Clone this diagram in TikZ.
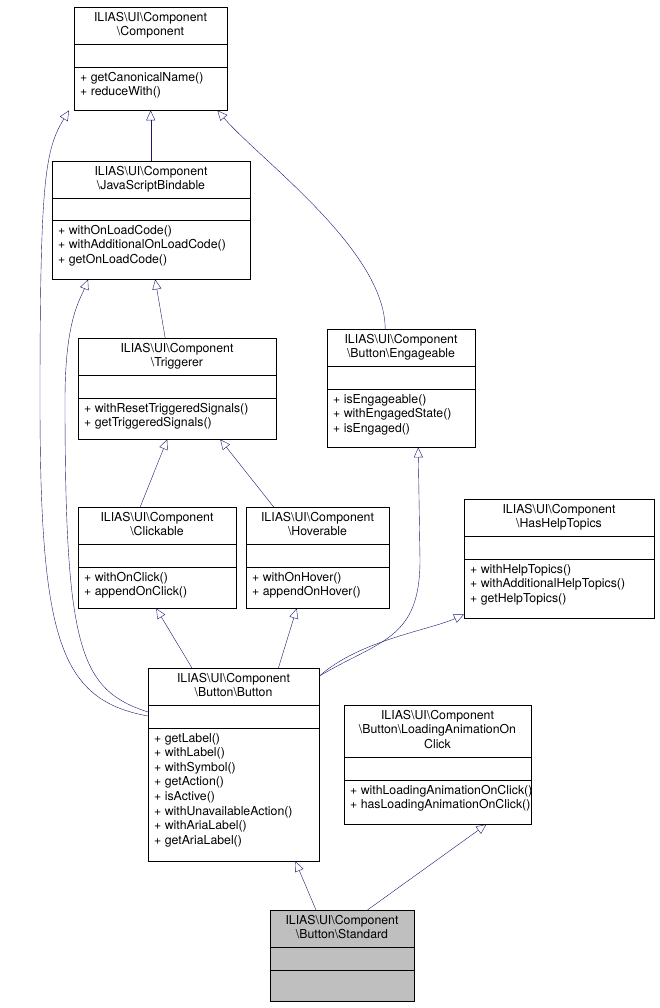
\documentclass[tikz,border=0pt]{standalone}
\usepackage{fontspec}
\setmainfont{TeX Gyre Heros}
\usetikzlibrary{arrows.meta}
\newcommand\bs{\textbackslash}
\definecolor{edgec}{HTML}{191970}
\tikzset{
  box/.style={draw=black, fill=white, inner sep=0pt, anchor=north west},
  txt/.style={inner sep=0pt, font=\fontsize{12.3}{14.6}\selectfont},
  edge/.style={draw=edgec, -{Triangle[open,length=10pt,width=9pt]}}
}
% #1 name #2 x1 #3 y1 #4 x2 #5 y_title_end #6 y_empty_end #7 y2 #8 title #9 methods
\newcommand\umlbox[9]{%
  \node[box, minimum width={#4pt-#2pt}, minimum height={#7pt-#3pt}] (#1) at (#2,#3) {};
  \draw ({#2},{#5}) -- ({#4},{#5});
  \draw ({#2},{#6}) -- ({#4},{#6});
  \node[txt, align=center, anchor=north] (#1t) at ({(#2+#4)/2},{#3+5}) {#8};
  \node[txt, align=left, anchor=north west] (#1m) at ({#2+6},{#6+5}) {#9};
}
\begin{document}
\begin{tikzpicture}[x=1pt,y=-1pt]
\useasboundingbox (0,0) rectangle (660,1008);
\umlbox{comp}{74}{7}{227}{44}{67}{110}{ILIAS\bs UI\bs Component\\\bs Component}{+ getCanonicalName()\\+ reduceWith()}
\umlbox{jsb}{52}{161}{250}{198}{220}{279}{ILIAS\bs UI\bs Component\\\bs JavaScriptBindable}{+ withOnLoadCode()\\+ withAdditionalOnLoadCode()\\+ getOnLoadCode()}
\umlbox{trig}{78}{338}{276}{375}{398}{439}{ILIAS\bs UI\bs Component\\\bs Triggerer}{+ withResetTriggeredSignals()\\+ getTriggeredSignals()}
\umlbox{eng}{327}{329}{475}{366}{389}{447}{ILIAS\bs UI\bs Component\\\bs Button\bs Engageable}{+ isEngageable()\\+ withEngagedState()\\+ isEngaged()}
\umlbox{click}{78}{507}{236}{544}{567}{608}{ILIAS\bs UI\bs Component\\\bs Clickable}{+ withOnClick()\\+ appendOnClick()}
\umlbox{hov}{246}{507}{389}{544}{567}{608}{ILIAS\bs UI\bs Component\\\bs Hoverable}{+ withOnHover()\\+ appendOnHover()}
\umlbox{help}{464}{499}{654}{536}{559}{618}{ILIAS\bs UI\bs Component\\\bs HasHelpTopics}{+ withHelpTopics()\\+ withAdditionalHelpTopics()\\+ getHelpTopics()}
\umlbox{btn}{148}{668}{319}{705}{728}{861}{ILIAS\bs UI\bs Component\\\bs Button\bs Button}{+ getLabel()\\+ withLabel()\\+ withSymbol()\\+ getAction()\\+ isActive()\\+ withUnavailableAction()\\+ withAriaLabel()\\+ getAriaLabel()}
\umlbox{load}{344}{705}{531}{757}{780}{824}{ILIAS\bs UI\bs Component\\\bs Button\bs LoadingAnimationOn\\Click}{+ withLoadingAnimationOnClick()\\+ hasLoadingAnimationOnClick()}
\node[box, fill={rgb,255:red,191;green,191;blue,191}, minimum width=144pt, minimum height=91pt] (std) at (270,910) {};
\draw (270,947) -- (414,947);
\draw (270,970) -- (414,970);
\node[txt, align=center, anchor=north] (stdt) at (342,915) {ILIAS\bs UI\bs Component\\\bs Button\bs Standard};
% edges
\draw[edge] (jsb.north -| comp.south) -- (comp.south);
\draw[edge] ([xshift=-12pt]trig.north) -- ([xshift=4pt]jsb.south);
\draw[edge] ([xshift=-16pt]eng.north) .. controls (385,250) and (260,160) .. ([xshift=-10pt]comp.south east);
\draw[edge] ([yshift=-48pt]btn.north west) .. controls (60,700) and (40,640) .. (40,400) .. controls (40,180) and (45,150) .. ([xshift=-5pt]comp.south west);
\draw[edge] ([yshift=-44pt]btn.north west) .. controls (80,690) and (65,650) .. (65,400) .. controls (65,320) and (80,300) .. ([xshift=36pt]jsb.south west);
\draw[edge] ([xshift=-17pt]click.north) -- ([xshift=-10pt]trig.north |- trig.south);
\draw[edge] ([xshift=-44pt]hov.north) -- ([xshift=43pt]trig.south);
\draw[edge] ([xshift=44pt]btn.north west) -- ([xshift=-1pt]click.south);
\draw[edge] ([xshift=-41pt]btn.north east) -- ([xshift=-21pt]hov.south);
\draw[edge] ([yshift=-8pt]btn.north east) .. controls (380,640) and (420,640) .. (420,560) -- ([xshift=17pt]eng.south);
\draw[edge] ([yshift=-8pt]btn.north east) .. controls (360,640) and (430,630) .. ([yshift=4pt]help.south west);
\draw[edge] ([xshift=46pt]std.north west) -- ([xshift=-24pt]btn.south east);
\draw[edge] ([xshift=-47pt]std.north east) -- ([xshift=-45pt]load.south east);
\end{tikzpicture}
\end{document}
